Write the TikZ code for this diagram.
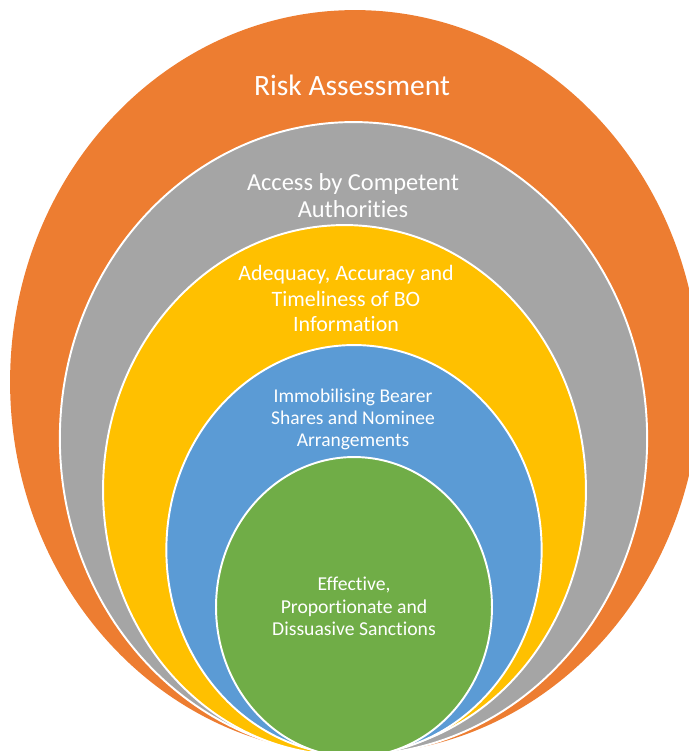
\documentclass[tikz,border=0pt]{standalone}
\usepackage{fontspec}
\setmainfont{Carlito}[Ligatures=NoCommon]
\definecolor{cOrange}{HTML}{ED7D31}
\definecolor{cGray}{HTML}{A5A5A5}
\definecolor{cYellow}{HTML}{FFC000}
\definecolor{cBlue}{HTML}{5B9BD5}
\definecolor{cGreen}{HTML}{70AD47}
\tikzset{
  ring/.style={draw=white, line width=1.1pt},
  lbl/.style={text=white, align=center, inner sep=0pt},
}
\begin{document}
\begin{tikzpicture}[x=0.02cm, y=-0.02cm]
  \useasboundingbox (0,0) rectangle (689,751);
  \begin{scope}
    \clip (0,0) rectangle (689,751);
    \fill[cOrange] (355,382) ellipse [x radius=6.9cm, y radius=7.44cm];
    \filldraw[ring, fill=cGray] (353.5,438.5) ellipse [x radius=5.874cm, y radius=6.33cm];
    \filldraw[ring, fill=cYellow] (344.5,490) ellipse [x radius=4.83cm, y radius=5.3cm];
    \filldraw[ring, fill=cBlue] (354,550) ellipse [x radius=3.754cm, y radius=4.1cm];
    \filldraw[ring, fill=cGreen] (354,607) ellipse [x radius=2.76cm, y radius=3.0cm];
  \end{scope}
  \node[lbl, font=\fontsize{16.8}{19}\selectfont] (risk) at (352,85) {Risk Assessment};
  \node[lbl, font=\fontsize{13.9}{15.3}\selectfont] (access) at (353,195.5) {Access by Competent\\Authorities};
  \node[lbl, font=\fontsize{12.5}{14.5}\selectfont] (adeq) at (346,298.7) {Adequacy, Accuracy and\\Timeliness of BO\\Information};
  \node[lbl, font=\fontsize{11.1}{12.5}\selectfont] (immob) at (353,419) {Immobilising Bearer\\Shares and Nominee\\Arrangements};
  \node[lbl, font=\fontsize{11.2}{12.8}\selectfont] (sanct) at (354,606.5) {Effective,\\Proportionate and\\Dissuasive Sanctions};
\end{tikzpicture}
\end{document}
